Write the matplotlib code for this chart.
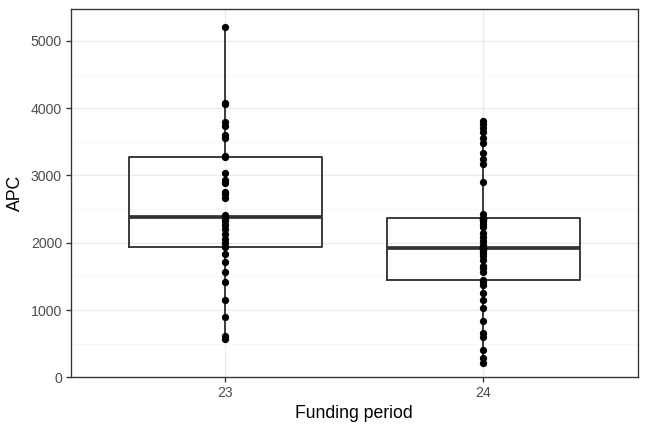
import numpy as np
import matplotlib
matplotlib.use("Agg")
import matplotlib.pyplot as plt
from matplotlib.ticker import MultipleLocator

# APC values, per funding period
periods = ["23", "24"]
apc_23 = [570, 620, 900, 1150, 1410, 1570, 1710, 1830, 1940, 1990, 2050,
          2130, 2200, 2260, 2320, 2360, 2390, 2420, 2660, 2720, 2760, 2890,
          2930, 3040, 3280, 3290, 3550, 3600, 3740, 3800, 4060, 4080, 5210]
apc_24 = [220, 280, 410, 600, 660, 830, 1030, 1150, 1260, 1370, 1410, 1440,
          1560, 1620, 1660, 1750, 1800, 1850, 1880, 1900, 1910, 1915, 1920,
          1960, 2030, 2080, 2150, 2230, 2280, 2320, 2340, 2350, 2360, 2370,
          2430, 2910, 3170, 3250, 3330, 3490, 3560, 3640, 3700, 3770, 3810]


def main():
    DARK = "#333333"
    GRID = "#EBEBEB"
    plt.rcParams["font.family"] = ["Liberation Sans", "DejaVu Sans"]
    groups = [apc_23, apc_24]
    pos = [1, 2]

    fig = plt.figure(figsize=(6.75, 4.5), dpi=96)
    ax = fig.add_axes([0.109, 0.1266, 0.8756, 0.8519])

    ax.boxplot(
        groups, positions=pos, widths=0.75, whis=(0, 100), showfliers=False,
        boxprops=dict(color=DARK, linewidth=1.4),
        whiskerprops=dict(color=DARK, linewidth=1.4),
        capprops=dict(linewidth=0),
        medianprops=dict(color=DARK, linewidth=2.8),
        zorder=3,
    )
    for p, vals in zip(pos, groups):
        ax.scatter([p] * len(vals), vals, s=30, color="black", zorder=4,
                   linewidths=0)

    ax.set_xlim(0.4, 2.6)
    ax.set_ylim(0, max(apc_23) * 1.05)
    ax.set_xticks(pos)
    ax.set_xticklabels(periods)
    ax.yaxis.set_major_locator(MultipleLocator(1000))
    ax.yaxis.set_minor_locator(MultipleLocator(500))

    ax.grid(True, which="major", color=GRID, linewidth=1.0, zorder=0)
    ax.grid(True, which="minor", axis="y", color="#F5F5F5", linewidth=0.6,
            zorder=0)
    ax.set_axisbelow(True)
    ax.tick_params(axis="both", which="major", colors=DARK, labelcolor="#4D4D4D",
                   labelsize=10.6, length=3.5, width=1.0, pad=3)
    ax.tick_params(axis="y", which="minor", length=0)
    for spine in ax.spines.values():
        spine.set_color(DARK)
        spine.set_linewidth(1.0)

    ax.set_xlabel("Funding period", fontsize=13.2, color="black", labelpad=4)
    ax.set_ylabel("APC", fontsize=13.2, color="black", labelpad=5)

    fig.savefig("out.png", dpi=96)


if __name__ == "__main__":
    main()
